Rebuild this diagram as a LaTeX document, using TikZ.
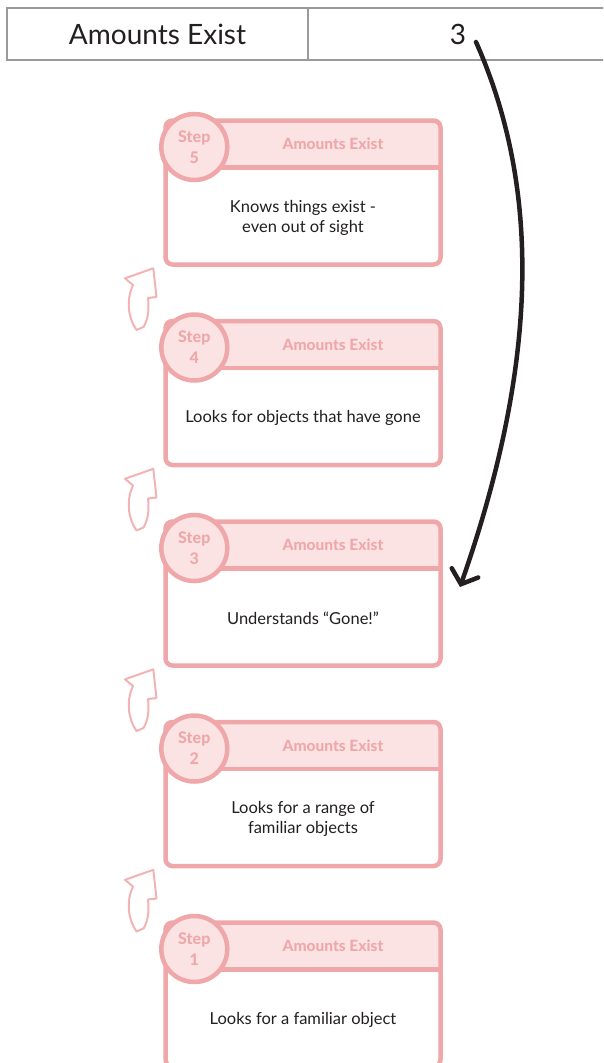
\documentclass[tikz,border=0pt]{standalone}
\usepackage{fontspec}
\setmainfont{Lato}
\newfontfamily\heavyfont{Lato Heavy}
\usetikzlibrary{arrows.meta, positioning}
\definecolor{rose}{HTML}{EFA7A9}
\definecolor{blush}{HTML}{FBE3E3}
\definecolor{ink}{HTML}{231F20}
\definecolor{rulegray}{HTML}{9A9A9A}
\definecolor{curlpink}{HTML}{F2B3B5}
\newcommand{\curlup}[1]{\draw[curl, yshift=-#1pt] (153.3,268.3) -- (125,278.3) -- (133,285)
  .. controls (126,300) and (128,318) .. (136.5,330) -- (143.5,327)
  .. controls (149,318) and (149,306) .. (148,298) -- (156.5,297) -- cycle;}
\tikzset{
  cell/.style    ={draw=rulegray, line width=2.5pt, minimum height=52pt, inner sep=0pt, outer sep=0pt, text=ink, font=\fontsize{28}{32}\selectfont},
  card/.style    ={draw=rose, line width=4.5pt, rounded corners=7pt, fill=white, minimum width=275pt, minimum height=144pt, inner sep=0pt, outer sep=0pt,
                   path picture={\fill[blush] (path picture bounding box.north west) rectangle ([yshift=-47pt]path picture bounding box.north east);}},
  sep/.style     ={draw=rose, line width=4.5pt},
  stepc/.style   ={circle, draw=rose, fill=blush, line width=4.5pt, minimum size=66pt, inner sep=0pt, outer sep=0pt, align=center, text=rose, font=\heavyfont\fontsize{16}{21}\selectfont},
  ttl/.style     ={text=rose, font=\heavyfont\fontsize{15.5}{18}\selectfont},
  desc/.style    ={text=ink, align=center, font=\fontsize{16.5}{20}\selectfont},
  curl/.style    ={draw=curlpink, fill=white, line width=2pt, line join=round},
  jump/.style    ={ink, line width=4.5pt, line cap=round, -{Straight Barb[length=12pt, width=28pt, line cap=round]}},
}
\begin{document}
\begin{tikzpicture}[x=1pt, y=-1pt]
  \useasboundingbox (0,0) rectangle (603,1063);
  \clip (0,0) rectangle (603,1063);
  % header table
  \node[cell, minimum width=301pt] (skill) at (157.5,34) {Amounts Exist};
  \node[cell, minimum width=300pt, right=0pt of skill] (score) {3};

  % step 5
  \node[card] (c5) at (303,192.5) {};
  \draw[sep] ([yshift=-47pt]c5.north west) -- ([yshift=-47pt]c5.north east);
  \node[ttl] (t5) at ([xshift=30pt,yshift=-23.5pt]c5.north) {Amounts Exist};
  \node[stepc] (s5) at ([xshift=28.8pt,yshift=-26.5pt]c5.north west) {Step\\5};
  \node[desc] (d5) at ([yshift=-25pt]c5.center) {Knows things exist -\\even out of sight};

  % step 4
  \node[card] (c4) at (303,393) {};
  \draw[sep] ([yshift=-47pt]c4.north west) -- ([yshift=-47pt]c4.north east);
  \node[ttl] (t4) at ([xshift=30pt,yshift=-23.5pt]c4.north) {Amounts Exist};
  \node[stepc] (s4) at ([xshift=28.8pt,yshift=-26.5pt]c4.north west) {Step\\4};
  \node[desc] (d4) at ([yshift=-25pt]c4.center) {Looks for objects that have gone};

  % step 3
  \node[card] (c3) at (303,593.5) {};
  \draw[sep] ([yshift=-47pt]c3.north west) -- ([yshift=-47pt]c3.north east);
  \node[ttl] (t3) at ([xshift=30pt,yshift=-23.5pt]c3.north) {Amounts Exist};
  \node[stepc] (s3) at ([xshift=28.8pt,yshift=-26.5pt]c3.north west) {Step\\3};
  \node[desc] (d3) at ([yshift=-25pt]c3.center) {Understands “Gone!”};

  % step 2
  \node[card] (c2) at (303,794) {};
  \draw[sep] ([yshift=-47pt]c2.north west) -- ([yshift=-47pt]c2.north east);
  \node[ttl] (t2) at ([xshift=30pt,yshift=-23.5pt]c2.north) {Amounts Exist};
  \node[stepc] (s2) at ([xshift=28.8pt,yshift=-26.5pt]c2.north west) {Step\\2};
  \node[desc] (d2) at ([yshift=-25pt]c2.center) {Looks for a range of\\familiar objects};

  % step 1
  \node[card] (c1) at (303,994.5) {};
  \draw[sep] ([yshift=-47pt]c1.north west) -- ([yshift=-47pt]c1.north east);
  \node[ttl] (t1) at ([xshift=30pt,yshift=-23.5pt]c1.north) {Amounts Exist};
  \node[stepc] (s1) at ([xshift=28.8pt,yshift=-26.5pt]c1.north west) {Step\\1};
  \node[desc] (d1) at ([yshift=-25pt]c1.center) {Looks for a familiar object};

  % little up arrows
  \curlup{0} \curlup{200.5} \curlup{401} \curlup{601.5}

  % pointer from the score
  \coordinate (from) at (476,42); \coordinate (to) at (460,587);
  \draw[jump] (from) .. controls (540,186) and (540,359) .. (to);
\end{tikzpicture}
\end{document}
